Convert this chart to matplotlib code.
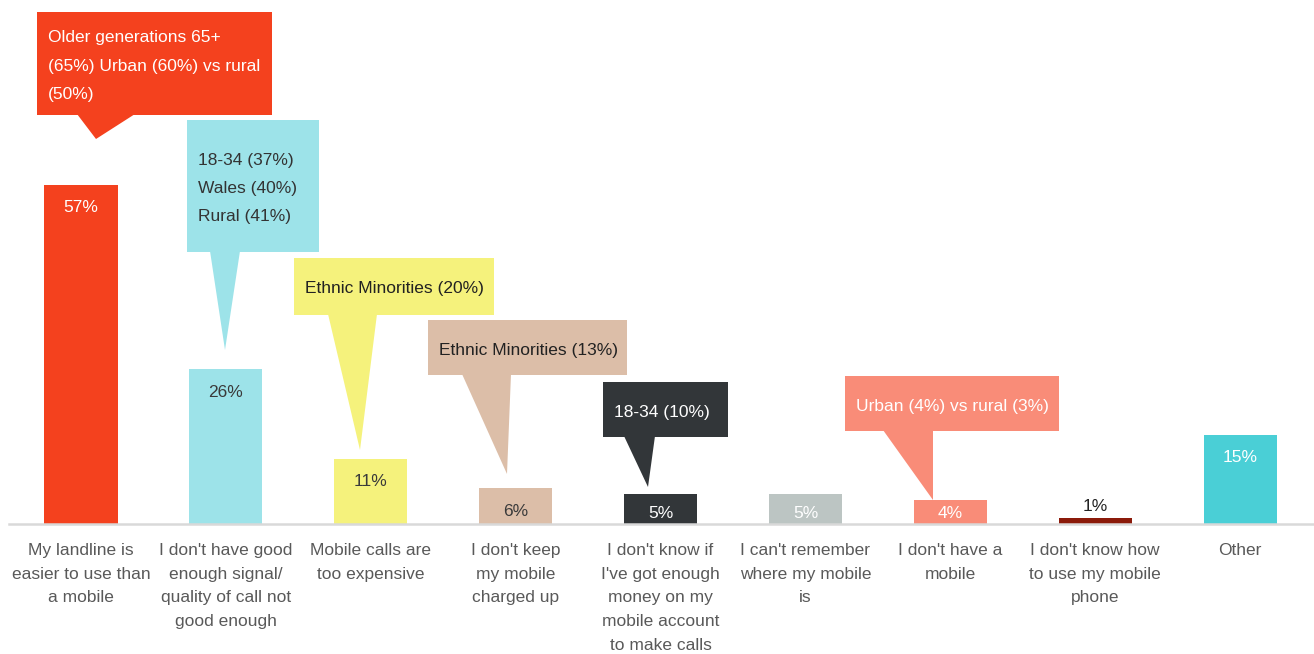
import matplotlib
matplotlib.use("Agg")
import matplotlib.pyplot as plt
import matplotlib.transforms as mtransforms
from matplotlib.patches import Polygon, Rectangle
from matplotlib import font_manager

names = {f.name for f in font_manager.fontManager.ttflist}
FAM = ['Liberation Sans Narrow', 'Liberation Sans', 'DejaVu Sans'] if 'Liberation Sans Narrow' in names else ['Liberation Sans', 'DejaVu Sans']
plt.rcParams['font.family'] = FAM

categories = [
    "My landline is\neasier to use than\na mobile",
    "I don't have good\nenough signal/\nquality of call not\ngood enough",
    "Mobile calls are\ntoo expensive",
    "I don't keep\nmy mobile\ncharged up",
    "I don't know if\nI've got enough\nmoney on my\nmobile account\nto make calls",
    "I can't remember\nwhere my mobile\nis",
    "I don't have a\nmobile",
    "I don't know how\nto use my mobile\nphone",
    "Other",
]
values = [57, 26, 11, 6, 5, 5, 4, 1, 15]
value_labels = ["57%", "26%", "11%", "6%", "5%", "5%", "4%", "1%", "15%"]
bar_colors = ["#F4411E", "#9DE3E9", "#F5F27C", "#DCBEA8", "#323639",
              "#BCC5C3", "#F98C78", "#8B1A0A", "#4ACFD6"]
label_colors = ["white", "#3a3a3a", "#3a3a3a", "#3a3a3a", "white",
                "white", "white", "#222222", "white"]

callout_texts = [
    "Older generations 65+\n(65%) Urban (60%) vs rural\n(50%)",
    "18-34 (37%)\nWales (40%)\nRural (41%)",
    "Ethnic Minorities (20%)",
    "Ethnic Minorities (13%)",
    "18-34 (10%)",
    "Urban (4%) vs rural (3%)",
]
callout_colors = ["#F4411E", "#9DE3E9", "#F5F27C", "#DCBEA8", "#323639", "#F98C78"]
callout_text_colors = ["white", "#333333", "#222222", "#222222", "white", "white"]

W, H = 1314, 654
fig = plt.figure(figsize=(W / 100, H / 100), dpi=100)
ax = fig.add_axes([8.55 / W, (H - 524) / H, 1304 / W, 524 / H])
x = list(range(len(values)))
ax.bar(x, values, width=0.505, color=bar_colors, zorder=2)
ax.set_xlim(-0.5, 8.5)
ax.set_ylim(0, 524 / 5.95)
for s in ['top', 'right', 'left']:
    ax.spines[s].set_visible(False)
ax.spines['bottom'].set_color('#D9D9D9')
ax.spines['bottom'].set_linewidth(1.8)
ax.set_yticks([])
ax.set_xticks([])

# category labels below the axis
cat_tr = ax.get_xaxis_transform() + mtransforms.ScaledTranslation(0, -19 / 100, fig.dpi_scale_trans)
for xi, cat in zip(x, categories):
    ax.text(xi, 0, cat, transform=cat_tr, ha='center', va='top', fontsize=12.5,
            color='#595959', linespacing=1.72, clip_on=False)

# value labels
ppd = 5.95  # pixels per percent
for xi, v, lab, c in zip(x, values, value_labels, label_colors):
    if v >= 3:
        ypix = min(23, v * ppd - 11)
        ax.annotate(lab, (xi, v), xytext=(0, -ypix * 0.72), textcoords='offset points',
                    ha='center', va='center', fontsize=12.5, color=c, zorder=3)
    else:
        ax.annotate(lab, (xi, v), xytext=(0, 12 * 0.72), textcoords='offset points',
                    ha='center', va='center', fontsize=12.5, color=c, zorder=3)

# callouts laid out in pixel coordinates (top-left origin)
pix = mtransforms.Affine2D().scale(1 / W, -1 / H).translate(0, 1) + fig.transFigure
boxes = [  # x0, y0, x1, y1
    (37, 12, 272, 115),
    (187, 120, 319, 252),
    (294, 258, 494, 315),
    (428, 320, 627, 375),
    (603, 382, 728, 437),
    (845, 376, 1059, 431),
]
pointers = [  # base-left x, base-right x, tip x, tip y
    (77, 135, 96, 139),
    (210, 240, 225, 350),
    (328, 377, 360, 450),
    (462, 511, 507, 474),
    (624, 655, 648, 487),
    (883, 933, 933, 500),
]
for (x0, y0, x1, y1), (bl, br, tx, ty), t, fc, tc in zip(boxes, pointers, callout_texts,
                                                         callout_colors, callout_text_colors):
    fig.add_artist(Rectangle((x0, y1), x1 - x0, y0 - y1, transform=pix, facecolor=fc,
                             edgecolor='none', zorder=5))
    fig.add_artist(Polygon([(bl, y1 - 1), (br, y1 - 1), (tx, ty)], closed=True, transform=pix,
                           facecolor=fc, edgecolor='none', zorder=5))
    fig.text(x0 + 11, (y0 + y1) / 2 + 2.5, t, transform=pix, ha='left', va='center',
             fontsize=12.5, color=tc, linespacing=2.1, zorder=6)

fig.savefig("out.png", dpi=100, facecolor='white')
